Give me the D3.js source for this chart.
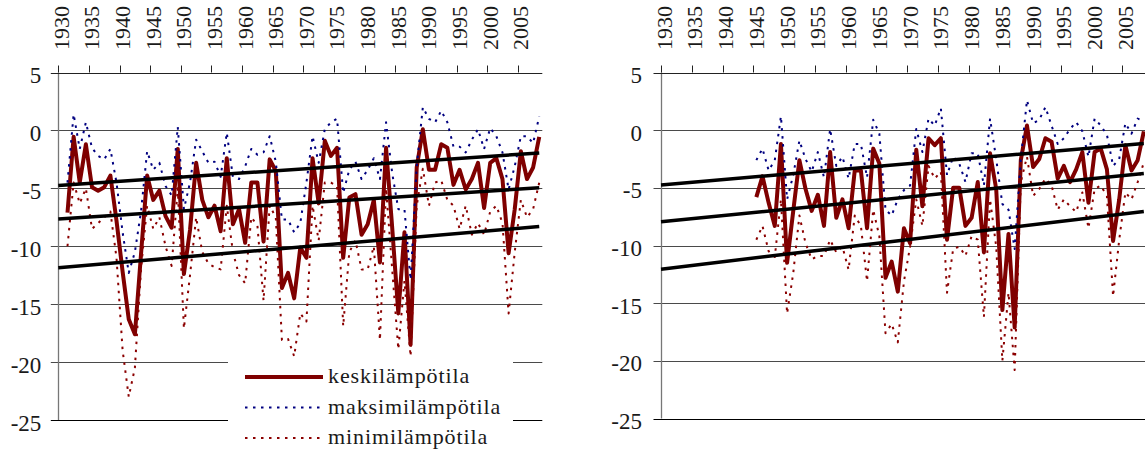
<!DOCTYPE html>
<html>
<head>
<meta charset="utf-8">
<script src="https://cdn.jsdelivr.net/npm/d3@7"></script>
<style>body{margin:0;background:#fff}</style>
</head>
<body>
<svg id="chart" width="1145" height="453"></svg>
<script>
// Annual winter temperatures (°C), two stations
const startLeft = 1931;
const meanLeft = [-7.1, -0.55, -4.5, -1.2, -4.9, -5.2, -4.9, -3.9, -7.8, -12.2,
  -16.3, -17.6, -10.7, -3.9, -6.0, -5.2, -7.4, -8.4, -1.6, -12.4,
  -8.6, -2.8, -6.0, -7.5, -6.5, -8.7, -2.4, -8.1, -6.8, -9.7,
  -4.5, -4.5, -9.6, -2.5, -3.5, -13.6, -12.3, -14.5, -10.1, -11.0,
  -2.4, -6.3, -0.9, -2.2, -1.5, -11.0, -5.8, -5.5, -9.0, -8.1,
  -6.0, -11.4, -1.5, -8.4, -15.8, -8.8, -18.5, -3.2, 0.1, -3.4,
  -3.4, -1.2, -1.5, -4.7, -3.4, -5.1, -4.2, -2.8, -6.7, -2.8,
  -2.4, -4.2, -10.6, -6.8, -1.8, -4.2, -3.2, -0.55];
const maxLeft = [-4.5, 1.4, -1.6, 0.7, -1.5, -2.2, -2.5, -1.6, -4.5, -8.8,
  -12.3, -10.5, -7.0, -1.8, -3.4, -2.8, -4.8, -5.6, 0.3, -6.8,
  -4.5, -0.8, -1.8, -2.8, -2.7, -4.0, -0.2, -4.0, -4.2, -3.1,
  -1.6, -2.1, -1.9, -0.5, -2.7, -7.7, -7.7, -8.8, -8.0, -4.5,
  -0.5, -2.8, 0.1, 0.7, 1.0, -5.4, -3.4, -2.7, -4.2, -3.4,
  -2.4, -4.2, 0.7, -3.7, -6.8, -6.8, -12.9, -3.1, 2.0, 1.0,
  0.7, 1.7, 0.7, -1.4, -1.4, -1.9, -0.8, 0.1, -1.6, 0.2,
  -0.5, -1.9, -5.1, -3.1, -0.5, -0.5, -1.1, 1.2];
const minLeft = [-10.0, -4.5, -6.3, -5.0, -8.5, -8.0, -7.5, -7.0, -11.0, -19.0,
  -23.0, -20.5, -12.0, -6.5, -8.5, -7.5, -10.0, -11.7, -5.0, -17.1,
  -12.5, -7.5, -10.5, -11.5, -11.8, -12.0, -6.5, -10.5, -12.5, -13.2,
  -7.5, -8.2, -14.7, -6.5, -7.5, -18.1, -18.0, -19.5, -15.8, -16.5,
  -6.5, -9.5, -4.5, -4.5, -4.8, -16.9, -10.5, -9.5, -12.0, -12.0,
  -10.0, -18.1, -5.0, -12.0, -18.9, -13.0, -19.5, -6.5, -3.3, -6.5,
  -4.5, -4.3, -6.0, -6.5, -8.5, -6.5, -9.0, -8.0, -9.0, -7.0,
  -6.5, -8.0, -15.8, -10.5, -6.0, -7.5, -6.8, -4.5];

const startRight = 1945;
const meanRight = [-5.8, -4.0, -6.3, -8.3, -1.2, -11.5, -7.0, -2.6, -5.1, -7.0,
  -5.6, -8.3, -1.9, -7.6, -6.0, -8.5, -3.5, -3.5, -8.5, -1.6,
  -2.9, -12.8, -11.4, -14.0, -8.5, -9.8, -1.7, -6.6, -0.7, -1.3,
  -0.7, -9.5, -5.0, -5.0, -8.3, -7.6, -4.5, -10.6, -2.0, -5.1,
  -15.6, -9.0, -17.1, -2.6, 0.4, -3.2, -2.5, -0.7, -1.0, -4.2,
  -3.1, -4.5, -3.4, -1.9, -6.3, -1.9, -1.6, -3.4, -9.6, -6.0,
  -1.3, -3.5, -2.6, -0.1];
const maxRight = [-2.6, -1.6, -3.5, -2.6, 1.2, -6.0, -3.9, -0.9, -2.5, -3.6,
  -1.9, -4.1, 0.1, -3.1, -2.3, -4.2, -1.2, -1.2, -4.1, 0.9,
  -0.3, -6.9, -7.4, -6.0, -5.2, -4.8, 0.1, -1.9, 1.0, 0.4,
  1.9, -3.9, -2.3, -2.9, -4.5, -2.0, -2.0, -4.8, 1.0, -2.5,
  -6.4, -6.9, -10.3, -2.5, 2.6, 0.6, 0.9, 2.0, 0.4, -1.2,
  -0.7, 0.1, 0.7, -0.1, -2.3, 1.0, 0.4, -0.4, -3.1, -2.5,
  0.6, -0.3, 1.0, 0.8];
const minRight = [-9.5, -8.3, -10.5, -11.0, -6.0, -15.9, -12.4, -7.4, -9.8, -11.2,
  -10.9, -10.9, -9.5, -10.6, -10.1, -12.1, -7.4, -8.3, -13.1, -6.9,
  -9.2, -17.6, -16.8, -18.4, -13.1, -10.1, -6.0, -8.3, -3.1, -4.2,
  -3.6, -14.1, -10.3, -10.1, -10.9, -9.2, -9.5, -16.2, -6.0, -10.1,
  -20.0, -14.1, -20.8, -4.5, -2.3, -5.7, -5.1, -4.2, -4.8, -6.9,
  -6.0, -6.6, -7.1, -5.4, -8.5, -5.1, -4.8, -5.7, -14.4, -9.5,
  -5.4, -6.0, -4.5, -2.8];

// Linear trend lines: values at the first and last year of trendYears
const trendYears = [1930, 2008.5];
const trendLeftMax = [-4.75, -1.95];
const trendLeftMean = [-7.65, -4.95];
const trendLeftMin = [-11.85, -8.3];
const trendRightMax = [-4.75, -1.15];
const trendRightMean = [-7.95, -3.75];
const trendRightMin = [-12.05, -7.05];

const yearTicks = d3.range(1930, 2006, 5);
const tempTicks = [5, 0, -5, -10, -15, -20, -25];
const legendLabels = ["keskilämpötila", "maksimilämpötila", "minimilämpötila"];

const RED = "#7f0000", BLUE = "#000080";
const styles = {
  mean: { stroke: RED, width: 4, dash: null },
  max: { stroke: BLUE, width: 2, dash: "2.5,5.5" },
  min: { stroke: "#8b0000", width: 2, dash: "2.5,5.5" }
};
const TEXT = "#1a1a1a";

const svg = d3.select("#chart");

// serif lettering for every label
function label(sel) {
  return sel
    .attr("font-family", "Liberation Serif")
    .style("font-family", d => `"Liberation Serif"`)
    .attr("fill", TEXT);
}

function panel(opts) {
  const x = d3.scaleLinear().domain([1930, 2009]).range([opts.x0, opts.x1]);
  const y = d3.scaleLinear().domain([5, -25]).range([opts.yTop, opts.yBottom]);
  const g = svg.append("g");
  const crisp = v => Math.round(v) + 0.5;

  // horizontal grid lines (extend left through the tick marks)
  g.selectAll("line.grid").data(tempTicks.filter(t => t !== 5)).join("line")
    .attr("x1", opts.x0 - 7.5).attr("x2", opts.x1)
    .attr("y1", d => crisp(y(d))).attr("y2", d => crisp(y(d)))
    .attr("stroke", d => d === -25 ? "#000" : "#4a4a4a").attr("stroke-width", 1);

  // value axis line
  g.append("line")
    .attr("x1", crisp(opts.x0)).attr("x2", crisp(opts.x0))
    .attr("y1", y(5)).attr("y2", y(-25))
    .attr("stroke", "#777").attr("stroke-width", 1.3);

  // top year axis
  g.append("line")
    .attr("x1", opts.x0 - 7.5).attr("x2", opts.x1)
    .attr("y1", crisp(y(5))).attr("y2", crisp(y(5)))
    .attr("stroke", "#222").attr("stroke-width", 1);
  g.selectAll("line.xt").data(yearTicks).join("line")
    .attr("x1", d => crisp(x(d))).attr("x2", d => crisp(x(d)))
    .attr("y1", y(5) - 7).attr("y2", y(5))
    .attr("stroke", "#222").attr("stroke-width", 1);
  g.selectAll("text.xl").data(yearTicks).join("text")
    .attr("transform", d => `translate(${x(d) + 10.5},50) rotate(-90)`)
    .attr("font-size", 22)
    .call(label)
    .text(d => String(d));

  // value labels
  g.selectAll("text.yl").data(tempTicks).join("text")
    .attr("x", opts.x0 - opts.labelGap).attr("y", d => y(d) + 10.5)
    .attr("text-anchor", "end").attr("font-size", 23)
    .call(label)
    .text(d => String(d));

  // legend backdrop sits on top of the grid only
  if (opts.legend) {
    g.append("rect")
      .attr("x", 228).attr("y", 360).attr("width", 285).attr("height", 100)
      .attr("fill", "#fff");
  }

  const line = d3.line().x(d => x(d[0] + 0.5)).y(d => y(d[1]));
  const series = [
    ["mean", opts.mean], ["max", opts.max], ["min", opts.min]
  ];
  series.forEach(([key, vals]) => {
    const st = styles[key];
    g.append("path")
      .datum(vals.map((v, i) => [opts.start + i, v]))
      .attr("d", line)
      .attr("fill", "none")
      .attr("stroke", st.stroke)
      .attr("stroke-width", st.width)
      .attr("stroke-linejoin", "round")
      .attr("stroke-dasharray", st.dash);
  });

  const tline = d3.line().x(d => x(d[0])).y(d => y(d[1]));
  opts.trends.forEach(vals => {
    g.append("path")
      .datum(trendYears.map((yr, i) => [yr, vals[i]]))
      .attr("d", tline)
      .attr("fill", "none").attr("stroke", "#000").attr("stroke-width", 3.5);
  });

  if (opts.legend) {
    const keys = ["mean", "max", "min"];
    const lg = g.append("g");
    keys.forEach((k, i) => {
      const cy = 377 + i * 30.5;
      const st = styles[k];
      lg.append("line")
        .attr("x1", 245).attr("x2", 323).attr("y1", cy).attr("y2", cy)
        .attr("stroke", st.stroke).attr("stroke-width", st.width)
        .attr("stroke-dasharray", st.dash);
      lg.append("text").datum(legendLabels[i])
        .attr("x", 328).attr("y", cy + 6)
        .attr("font-size", 22).attr("letter-spacing", 0.9)
        .call(label)
        .text(d => d);
    });
  }
}

panel({
  x0: 58.3, x1: 542.3, yTop: 72.5, yBottom: 420, labelGap: 17,
  start: startLeft, mean: meanLeft, max: maxLeft, min: minLeft,
  trends: [trendLeftMax, trendLeftMean, trendLeftMin], legend: true
});
panel({
  x0: 661, x1: 1146.9, yTop: 72.5, yBottom: 418.5, labelGap: 19,
  start: startRight, mean: meanRight, max: maxRight, min: minRight,
  trends: [trendRightMax, trendRightMean, trendRightMin], legend: false
});
</script>
</body>
</html>
